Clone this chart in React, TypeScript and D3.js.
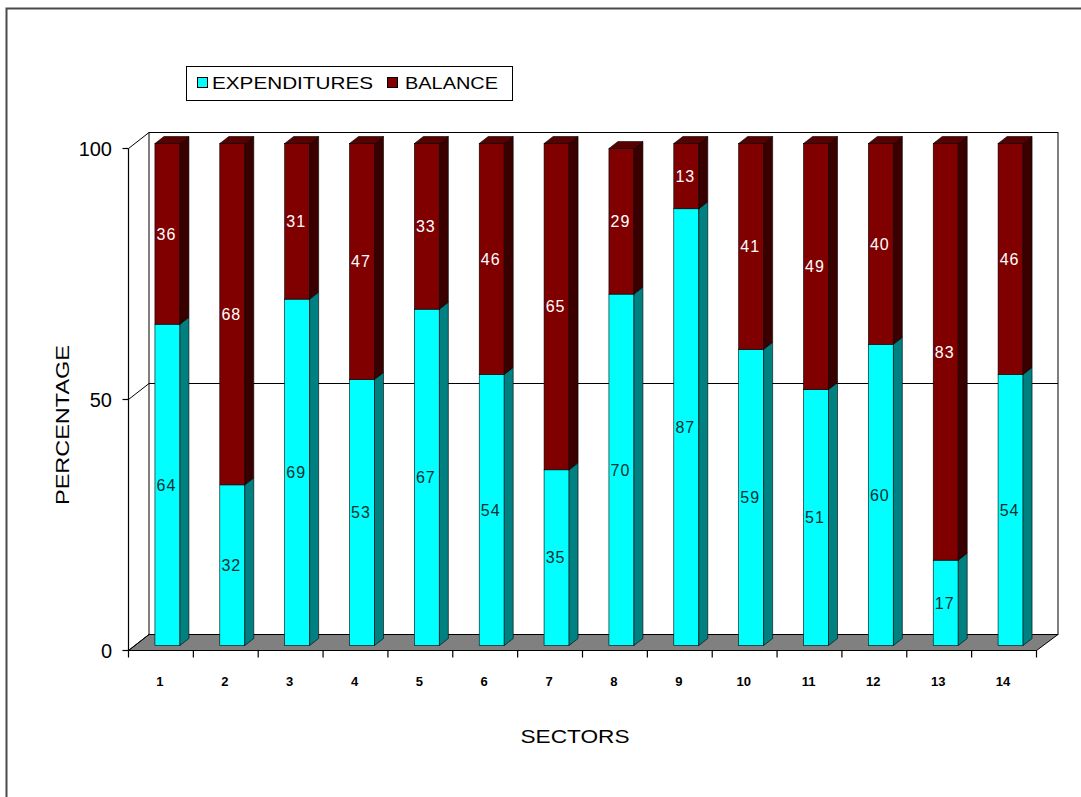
import React from "react";
import * as d3 from "d3";

const sectors = ["1", "2", "3", "4", "5", "6", "7", "8", "9", "10", "11", "12", "13", "14"];
const expenditures = [64, 32, 69, 53, 67, 54, 35, 70, 87, 59, 51, 60, 17, 54];
const balance = [36, 68, 31, 47, 33, 46, 65, 29, 13, 41, 49, 40, 83, 46];
const yTicks = [0, 50, 100];
const seriesNames = ["EXPENDITURES", "BALANCE"];

const W = 1081;
const H = 797;
const FONT = "'Liberation Sans', Arial, sans-serif";

// geometry
const frontLeft = 128.5;
const frontRight = 1036.5;
const DX = 20.5; // full depth
const DY = -16;
const barDX = 9;
const barDY = -7;
const barW = 25;
const barShift = 6.5;
const barDrop = -5;

const x = d3.scaleBand<string>().domain(sectors).range([frontLeft, frontRight]);
const yFront = d3.scaleLinear().domain([0, 100]).range([650.5, 148.5]);
const yBar = (v: number) => yFront(v) + barDrop;

const colors = {
  cyanFront: "#00FFFF",
  cyanSide: "#008080",
  cyanTop: "#00C0C0",
  redFront: "#800000",
  redSide: "#3a0000",
  redTop: "#5a0000",
};

function Bar({ i }: { i: number }) {
  const cat = sectors[i];
  const bw = x.bandwidth();
  const x0 = (x(cat) as number) + (bw - barW) / 2 + barShift;
  const x1 = x0 + barW;
  const e = expenditures[i];
  const b = balance[i];
  const segs = [
    { lo: 0, hi: e, front: colors.cyanFront, side: colors.cyanSide, top: colors.cyanTop, val: e, txt: "#0a3030" },
    { lo: e, hi: e + b, front: colors.redFront, side: colors.redSide, top: colors.redTop, val: b, txt: "#ffffff" },
  ];
  const stroke = "#000";
  const sw = 0.6;
  return (
    <g>
      {segs.map((s, k) => {
        const yb = yBar(s.lo);
        const yt = yBar(s.hi);
        const sidePts = `${x1},${yb} ${x1 + barDX},${yb + barDY} ${x1 + barDX},${yt + barDY} ${x1},${yt}`;
        const topPts = `${x0},${yt} ${x0 + barDX},${yt + barDY} ${x1 + barDX},${yt + barDY} ${x1},${yt}`;
        return (
          <g key={k}>
            <rect x={x0} y={yt} width={barW} height={yb - yt} fill={s.front} stroke={stroke} strokeWidth={sw} />
            <polygon points={sidePts} fill={s.side} stroke={stroke} strokeWidth={sw} />
            {k === segs.length - 1 && <polygon points={topPts} fill={s.top} stroke={stroke} strokeWidth={sw} />}
          </g>
        );
      })}
      {segs.map((s, k) => (
        <text
          key={"t" + k}
          x={x0 + barW / 2 - 1}
          y={(yBar(s.lo) + yBar(s.hi)) / 2}
          dy="0.36em"
          textAnchor="middle"
          fontFamily={FONT}
          fontSize={16}
          letterSpacing={1}
          fill={s.txt}
        >
          {s.val}
        </text>
      ))}
    </g>
  );
}

export default function App() {
  const yBack = (v: number) => yFront(v) + DY;
  const backL = frontLeft + DX;
  const backR = frontRight + DX + 1;
  const boundaries = sectors.map((c) => x(c) as number).concat([frontRight]);
  return (
    <svg width={W} height={H} style={{ position: "absolute", left: 0, top: 0, background: "#fff" }}>
      <rect x={0} y={0} width={W} height={H} fill="#fff" />
      {/* outer frame */}
      <rect x={6.5} y={8.5} width={W + 20} height={H + 20} fill="none" stroke="#4a4a4a" strokeWidth={2} />

      {/* legend */}
      <rect x={186.5} y={66.5} width={326} height={34} fill="#fff" stroke="#000" strokeWidth={1} />
      <rect x={197.5} y={77.5} width={10} height={10} fill={colors.cyanFront} stroke="#000" />
      <text x={212} y={83} dy="0.36em" fontFamily={FONT} fontSize={17} textLength={161} lengthAdjust="spacingAndGlyphs" fill="#000">
        {seriesNames[0]}
      </text>
      <rect x={387.5} y={77.5} width={10} height={10} fill={colors.redFront} stroke="#000" />
      <text x={405} y={83} dy="0.36em" fontFamily={FONT} fontSize={17} textLength={93} lengthAdjust="spacingAndGlyphs" fill="#000">
        {seriesNames[1]}
      </text>

      {/* back wall */}
      <rect x={backL} y={yBack(100)} width={backR - backL} height={yBack(0) - yBack(100)} fill="#fff" stroke="#000" strokeWidth={1} />
      {yTicks
        .filter((t) => t > 0 && t < 100)
        .map((t) => (
          <line key={t} x1={backL} x2={backR} y1={yBack(t)} y2={yBack(t)} stroke="#000" strokeWidth={1} />
        ))}

      {/* floor */}
      <polygon
        points={`${frontLeft},${yFront(0)} ${frontRight},${yFront(0)} ${backR},${yBack(0)} ${backL},${yBack(0)}`}
        fill="#808080"
        stroke="#000"
        strokeWidth={1}
      />

      {/* y axis */}
      <line x1={frontLeft} x2={frontLeft} y1={yFront(0)} y2={yFront(100)} stroke="#000" strokeWidth={1.2} />
      {yTicks.map((t) => (
        <g key={t}>
          <line x1={frontLeft - 6} x2={frontLeft} y1={yFront(t)} y2={yFront(t)} stroke="#000" strokeWidth={1.2} />
          <line x1={frontLeft} x2={backL} y1={yFront(t)} y2={yBack(t)} stroke="#000" strokeWidth={1} />
          <text x={112} y={yFront(t)} dy="0.36em" textAnchor="end" fontFamily={FONT} fontSize={20} fill="#000">
            {t}
          </text>
        </g>
      ))}

      {/* x axis */}
      <line x1={frontLeft} x2={frontRight} y1={yFront(0)} y2={yFront(0)} stroke="#000" strokeWidth={1.2} />
      {boundaries.map((bx, k) => (
        <line key={k} x1={bx} x2={bx} y1={yFront(0)} y2={yFront(0) + 7} stroke="#000" strokeWidth={1.2} />
      ))}
      {sectors.map((c) => (
        <text
          key={c}
          x={(x(c) as number) + x.bandwidth() / 2 - 1}
          y={681}
          dy="0.36em"
          textAnchor="middle"
          fontFamily={FONT}
          fontSize={13}
          fontWeight="bold"
          fill="#000"
        >
          {c}
        </text>
      ))}

      {/* bars */}
      {sectors.map((_, i) => (
        <Bar key={i} i={i} />
      ))}

      {/* axis titles */}
      <text
        transform={`translate(62,425) rotate(-90)`}
        textAnchor="middle"
        dy="0.36em"
        fontFamily={FONT}
        fontSize={19}
        textLength={160}
        lengthAdjust="spacingAndGlyphs"
        fill="#000"
      >
        PERCENTAGE
      </text>
      <text x={575} y={736} textAnchor="middle" dy="0.36em" fontFamily={FONT} fontSize={19} textLength={109} lengthAdjust="spacingAndGlyphs" fill="#000">
        SECTORS
      </text>
    </svg>
  );
}
